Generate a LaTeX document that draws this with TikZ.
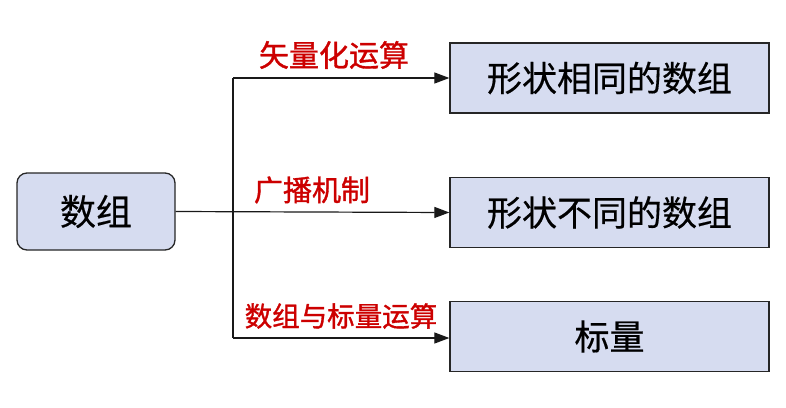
\documentclass[tikz,border=0pt]{standalone}
\usepackage{fontspec}
\setmainfont{Noto Sans CJK SC}
\newfontfamily\labfont[FakeBold=1.2]{Noto Sans CJK SC}
\newfontfamily\boxfont[FakeBold=0.4]{Noto Sans CJK SC}
\usetikzlibrary{arrows.meta}
\definecolor{boxfill}{HTML}{D6DCF0}
\definecolor{labred}{HTML}{CC0000}
\tikzset{
  srcbox/.style={draw=black!85, line width=1.3pt, fill=boxfill, rounded corners=10pt, minimum width=158pt, minimum height=77pt, font=\boxfont\fontsize{36}{40}\selectfont, inner sep=0pt},
  dstbox/.style={draw=black!85, line width=1.3pt, fill=boxfill, minimum width=319pt, minimum height=70pt, font=\boxfont\fontsize{35}{40}\selectfont, inner sep=0pt},
  conn/.style={line width=1.2pt, draw=black!90},
  arr/.style={conn, -{Triangle[length=15pt, width=11pt]}},
  lab/.style={text=labred, font=\labfont\fontsize{29}{33}\selectfont, inner sep=0pt}
}
\begin{document}
\begin{tikzpicture}[x=1pt, y=-1pt]
\useasboundingbox (0,0) rectangle (786,407);
\node[srcbox] (src) at (96,211.5) {数组};
\node[dstbox] (d1) at (609.5,78) {形状相同的数组};
\node[dstbox] (d2) at (609.5,212.5) {形状不同的数组};
\node[dstbox] (d3) at (609.5,336.5) {标量};
\coordinate (jt) at (233,78);
\coordinate (jb) at (233,338);
\draw[conn] (src.east) -- (233,211.5);
\draw[conn] (jt) -- (jb);
\draw[arr] (jt) -- (d1.west);
\draw[arr] (src.east) -- (d2.west);
\draw[arr] (jb) -- (d3.west |- jb);
\node[lab, font=\labfont\fontsize{30}{33}\selectfont] (l1) at (334,55) {矢量化运算};
\node[lab] (l2) at (312,190) {广播机制};
\node[lab, font=\labfont\fontsize{27.5}{33}\selectfont] (l3) at (341,316) {数组与标量运算};
\end{tikzpicture}
\end{document}
